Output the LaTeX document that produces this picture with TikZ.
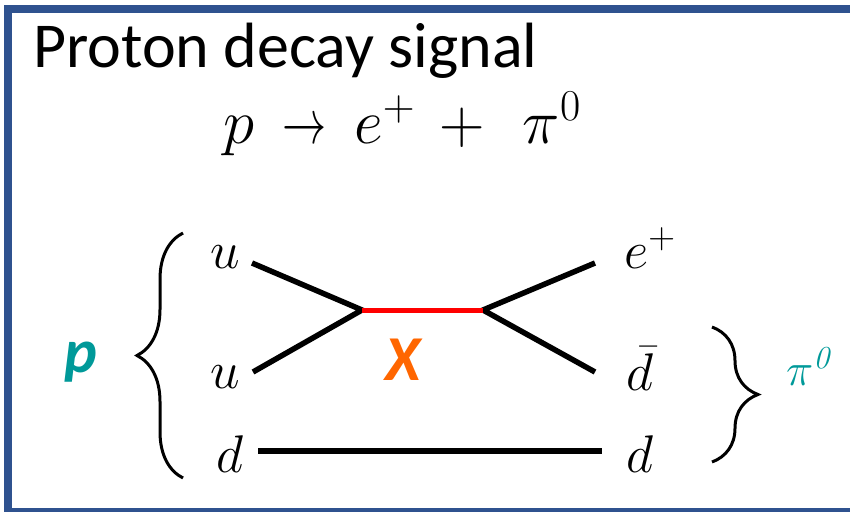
\RequirePackage{fix-cm}
\documentclass[tikz,border=0pt]{standalone}
\usepackage{fontspec}
\setmainfont{Carlito}
\newfontfamily\lmfont{Latin Modern Roman}
\usepackage{graphicx}
\usepackage{xcolor}
\usepackage{tikz}
\usetikzlibrary{positioning,decorations.pathreplacing}

\definecolor{frameblue}{RGB}{47,82,143}
\definecolor{labelteal}{RGB}{0,153,153}
\definecolor{xorange}{RGB}{255,102,0}

\tikzset{
	quark/.style={inner sep=0pt,anchor=base,font=\fontsize{53}{60}\selectfont},
	line/.style={line width=5.5pt,black},
	curly/.style={decorate,decoration={brace,amplitude=46pt},line width=3pt},
}

\begin{document}
\begin{tikzpicture}[x=1pt,y=-1pt]
				\clip (0,0) rectangle (850,511);
				% Frame
				\draw[frameblue,line width=8pt] (8,9) rectangle (880,512);

				% Title and reaction
				\node[inner sep=0pt,anchor=base west,font=\fontsize{64}{70}\selectfont] (title) at (33,67) {Proton decay signal};
				\node[inner sep=0pt,anchor=base west,font=\fontsize{63}{66}\selectfont] (eqn) at (223,143)
					{$p \,\mathrel{\scalebox{0.7}[1]{$\rightarrow$}}\, e^{+}\, + \hspace{24pt} \pi^{0}$};

				% Quarks on the left
				\node[quark] (u1) at (225,268) {$u$};
				\node[quark] (u2) at (225,388) {$u$};
				\node[quark] (dl) at (230,472) {$d$};

				% Products on the right
				\node[quark,anchor=base west] (ep) at (624,268) {$e^{+}$};
				\node[quark] (db) at (640,390) {$\bar{d}$};
				\node[quark] (dr) at (640,472) {$d$};

				% Vertices and line ends
				\coordinate (vl) at (362,310);
				\coordinate (vr) at (483,310);
				\coordinate (u1e) at (252,263);
				\coordinate (u2e) at (253,372);
				\coordinate (epe) at (595,263);
				\coordinate (dbe) at (595,372);
				\coordinate (dle) at (258,451);
				\coordinate (dre) at (602,451);

				\draw[line] (u1e) -- (vl) -- (u2e);
				\draw[line] (epe) -- (vr) -- (dbe);
				\draw[line] (dle) -- (dre);
				\draw[red,line width=5pt] (vl) -- (vr);

				% Boson and hadron labels
				\node[inner sep=0pt,anchor=base,text=xorange,font=\fontsize{64}{70}\selectfont\bfseries\itshape] (X) at (403,380) {X};
				\node[inner sep=0pt,anchor=base,text=labelteal,font=\fontsize{62}{70}\selectfont\bfseries\itshape] (p) at (81,372) {p};
				\node[inner sep=0pt,anchor=base west,text=labelteal,font=\fontsize{46}{50}\selectfont] (pi) at (786,385)
					{$\pi^{\mbox{\fontsize{32}{34}\selectfont\lmfont\itshape 0}}$};

				% Braces
				\draw[curly] (183,478) -- (183,233);
				\draw[curly] (712,327) -- (712,462);
			\end{tikzpicture}
\end{document}
